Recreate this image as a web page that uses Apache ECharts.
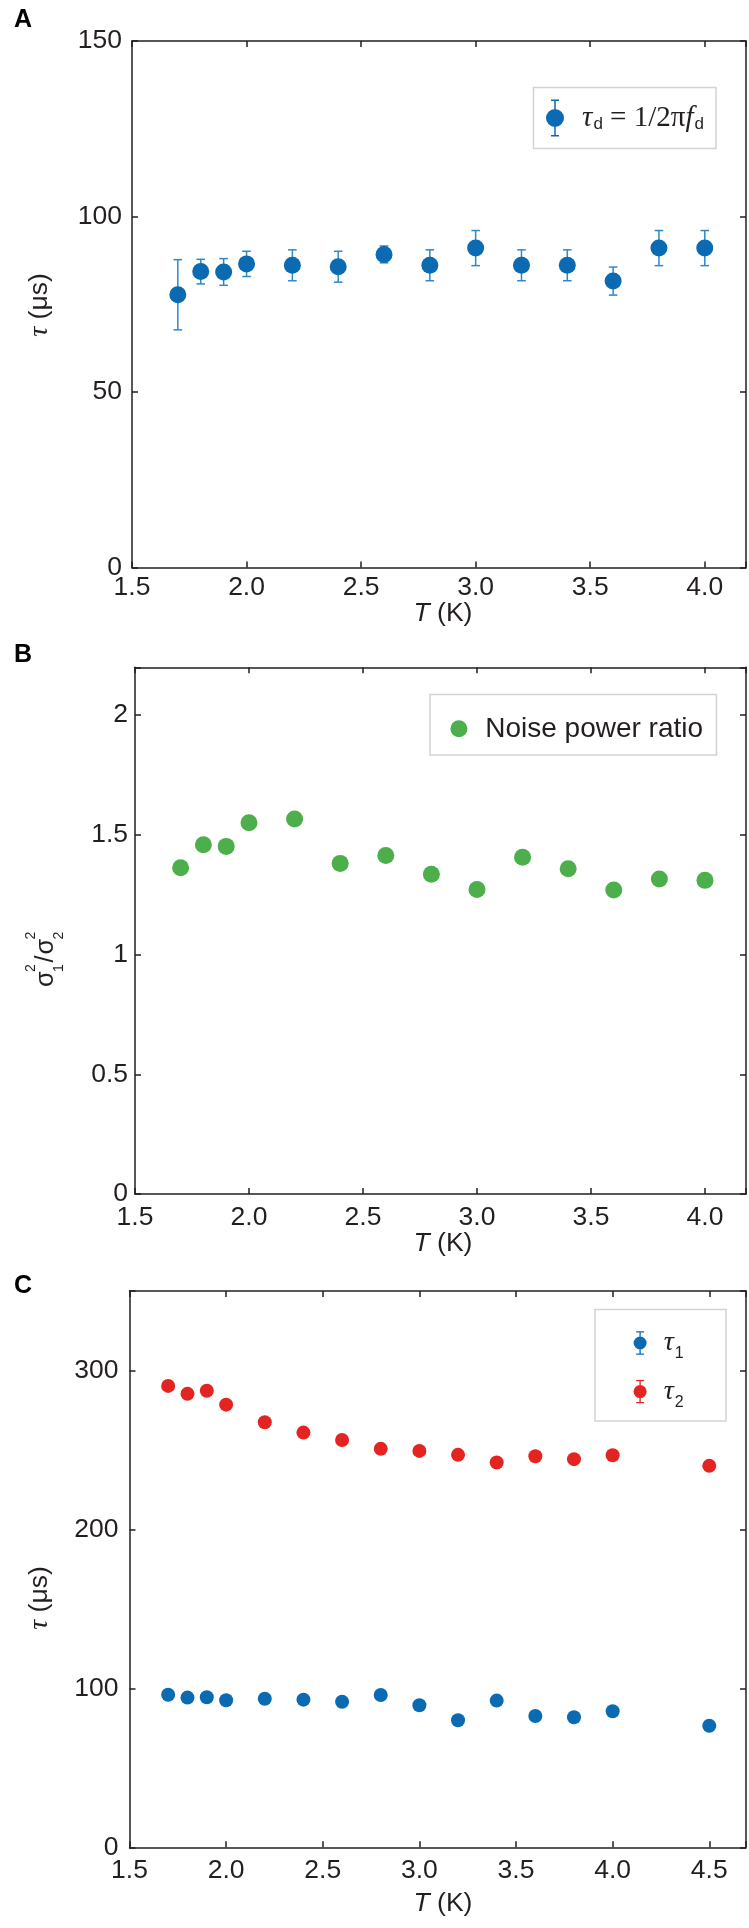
<!DOCTYPE html>
<html>
<head>
<meta charset="utf-8">
<script src="https://cdn.jsdelivr.net/npm/echarts@6/dist/echarts.min.js"></script>
<style>html,body{margin:0;padding:0;background:#fff}#c{width:749px;height:1928px}</style>
</head>
<body>
<div id="c"></div>
<script>
// ---------------- data ----------------
const temperaturesAB = [1.7, 1.8, 1.9, 2.0, 2.2, 2.4, 2.6, 2.8, 3.0, 3.2, 3.4, 3.6, 3.8, 4.0];
const tauD          = [77.7, 84.3, 84.2, 86.5, 86.1, 85.7, 89.2, 86.1, 91.0, 86.1, 86.1, 81.6, 91.0, 91.0];
const tauDErr       = [10.0, 3.5, 3.8, 3.6, 4.4, 4.4, 2.4, 4.4, 5.0, 4.4, 4.4, 4.0, 5.0, 5.0];
const noiseRatio    = [1.363, 1.459, 1.452, 1.551, 1.566, 1.381, 1.414, 1.336, 1.272, 1.407, 1.359, 1.270, 1.316, 1.310];
const temperaturesC = [1.7, 1.8, 1.9, 2.0, 2.2, 2.4, 2.6, 2.8, 3.0, 3.2, 3.4, 3.6, 3.8, 4.0, 4.5];
const tau1          = [96.0, 94.2, 94.4, 92.5, 93.5, 92.9, 91.6, 95.8, 89.4, 79.9, 92.3, 82.6, 81.8, 85.6, 76.5];
const tau2          = [290.3, 285.3, 287.2, 278.5, 267.4, 260.9, 256.3, 250.7, 249.4, 246.9, 242.1, 246.0, 244.2, 246.7, 240.0];
const xTickStep = 0.5;
const yTickStepA = 50, yTickStepB = 0.5, yTickStepC = 100;
const panelLabels = ['A', 'B', 'C'];

// ---------------- style ----------------
const INK = '#231f20';
const SANS = "'Liberation Sans', Arial, Helvetica, sans-serif";
const SERIF = "'Liberation Serif', 'Times New Roman', serif";
const BLUE = '#0a6ab2', BLUE_ERR = '#2d88cc', GREEN = '#4caf4b', RED = '#e32420';
const FS = 26.5;

function mult(v, s) { return Math.abs(v / s - Math.round(v / s)) < 1e-6; }
const lineStyle = { color: INK, width: 1.5 };

function xAxes(gi, max, margin) {
  const base = {
    gridIndex: gi, type: 'value', min: 1.5, max: max, interval: xTickStep,
    axisLine: { show: true, onZero: false, lineStyle },
    axisTick: { show: true, inside: true, length: 6, lineStyle },
    splitLine: { show: false }
  };
  return [
    Object.assign({}, base, {
      position: 'bottom',
      axisLabel: { margin, fontSize: FS, fontFamily: SANS, color: INK,
        formatter: v => mult(v, xTickStep) ? v.toFixed(1) : '' }
    }),
    Object.assign({}, base, { position: 'top', axisLabel: { show: false } })
  ];
}
function yAxes(gi, max, step, margin) {
  const base = {
    gridIndex: gi, type: 'value', min: 0, max: max, interval: step,
    axisLine: { show: true, onZero: false, lineStyle },
    axisTick: { show: true, inside: true, length: 6, lineStyle },
    splitLine: { show: false }
  };
  return [
    Object.assign({}, base, {
      position: 'left',
      axisLabel: { margin, fontSize: FS, fontFamily: SANS, color: INK,
        formatter: v => mult(v, step) ? String(+v.toFixed(2)) : '' }
    }),
    Object.assign({}, base, { position: 'right', axisLabel: { show: false } })
  ];
}

// legend icons: marker with error bar (all sub-paths clockwise, no overlaps)
const iconA = 'path://M0,18.5a9,9 0 1,1 18,0a9,9 0 1,1 -18,0Z M8.25,1.5h1.5v8h-1.5Z M8.25,27.5h1.5v8h-1.5Z M5,0h8v1.5h-8Z M5,35.5h8v1.5h-8Z';
const iconC = 'path://M0,11.7a6.5,6.5 0 1,1 13,0a6.5,6.5 0 1,1 -13,0Z M5.85,1.3h1.3v3.9h-1.3Z M5.85,18.2h1.3v3.9h-1.3Z M2.5,0h8v1.3h-8Z M2.5,22.1h8v1.3h-8Z';

const chart = echarts.init(document.getElementById('c'), null, { renderer: 'canvas' });

function xTitle(y) {
  return { type: 'text', x: 443, y: y, style: {
    text: '{i|T}{n| (K)}', align: 'center', verticalAlign: 'middle', textAlign: 'center', textVerticalAlign: 'middle',
    rich: { i: { fontFamily: SANS, fontStyle: 'italic', fontSize: FS, fill: INK },
            n: { fontFamily: SANS, fontSize: FS, fill: INK } } } };
}
function yTitle(x, y) {
  return { type: 'text', x: x, y: y, rotation: Math.PI / 2, style: {
    text: '{t|τ}{n| (μs)}', align: 'center', verticalAlign: 'middle', textAlign: 'center', textVerticalAlign: 'middle',
    rich: { t: { fontFamily: SERIF, fontStyle: 'italic', fontSize: 28, fill: INK },
            n: { fontFamily: SANS, fontSize: FS, fill: INK } } } };
}
function panelLabel(txt, y) {
  return { type: 'text', x: 14, y: y, style: { text: txt, fontFamily: SANS, fontWeight: 'bold', fontSize: 25, fill: '#000',
    align: 'left', verticalAlign: 'middle', textAlign: 'left', textVerticalAlign: 'middle' } };
}
function legendBox(x, y, w, h) {
  return { type: 'rect', shape: { x, y, width: w, height: h }, style: { fill: 'none', stroke: '#d3d3d3', lineWidth: 1.5 }, z: 1 };
}
function t(txt, x, y, size) {
  return { type: 'text', x, y, style: { text: txt, fontFamily: SANS, fontSize: size, fill: INK,
    align: 'left', verticalAlign: 'middle', textAlign: 'left', textVerticalAlign: 'middle' } };
}
// sigma_1^2 / sigma_2^2 rotated label
const sigmaLabel = { type: 'group', x: 55, y: 957, rotation: Math.PI / 2, children: [
  t('σ', -30, -8.9, 25.5),
  t('2', -15, -24.2, 14),
  t('1', -15, 4.1, 14),
  t('/', -5.5, -8.9, 25.5),
  t('σ', 2.5, -8.9, 25.5),
  t('2', 17.5, -24.2, 14),
  t('2', 17.5, 4.1, 14)
] };

const richLegend = {
  it: { fontFamily: SERIF, fontStyle: 'italic', fontSize: 29, color: INK },
  n: { fontFamily: SERIF, fontSize: 29, color: INK },
  sub: { fontFamily: SANS, fontSize: 17, color: INK, padding: [13, 0, 0, 1] }
};
const richLegendC = {
  it: { fontFamily: SERIF, fontStyle: 'italic', fontSize: 28, color: INK },
  sub: { fontFamily: SANS, fontSize: 16, color: INK, padding: [22, 0, 0, 1] }
};

const option = {
  animation: false,
  backgroundColor: '#fff',
  grid: [
    { left: 132, top: 41, width: 615, height: 526.5 },
    { left: 135, top: 667.3, width: 612, height: 526.7 },
    { left: 129.5, top: 1291, width: 617, height: 556.3 }
  ],
  xAxis: [].concat(xAxes(0, 4.18, 7), xAxes(1, 4.18, 10), xAxes(2, 4.69, 10)),
  yAxis: [].concat(yAxes(0, 150, yTickStepA, 10), yAxes(1, 2.2, yTickStepB, 7), yAxes(2, 350, yTickStepC, 11)),
  legend: [
    { data: ['τd'], left: 546, top: 99.5, padding: 0, itemWidth: 44, itemHeight: 37, icon: iconA,
      selectedMode: false, formatter: () => '{it|τ}{sub|d}{n| = 1/2π}{it|f}{sub|d}', textStyle: { rich: richLegend } },
    { data: ['Noise power ratio'], left: 450.4, top: 714.8, padding: 0, itemWidth: 42.6, itemHeight: 17, icon: 'circle',
      selectedMode: false, textStyle: { fontFamily: SANS, fontSize: 28, color: INK } },
    { data: ['τ1'], left: 633.6, top: 1329, padding: 0, itemWidth: 37.4, itemHeight: 23.4, icon: iconC,
      selectedMode: false, formatter: () => '{it|τ}{sub|1}', textStyle: { rich: richLegendC } },
    { data: ['τ2'], left: 633.6, top: 1377.6, padding: 0, itemWidth: 37.4, itemHeight: 23.4, icon: iconC,
      selectedMode: false, formatter: () => '{it|τ}{sub|2}', textStyle: { rich: richLegendC } }
  ],
  series: [
    { type: 'custom', name: 'errA', xAxisIndex: 0, yAxisIndex: 0, silent: true, z: 2,
      data: temperaturesAB.map((x, i) => [x, tauD[i] - tauDErr[i], tauD[i] + tauDErr[i]]),
      encode: { x: 0, y: [1, 2] },
      renderItem: function (params, api) {
        const x = api.value(0);
        const lo = api.coord([x, api.value(1)]);
        const hi = api.coord([x, api.value(2)]);
        const hw = 4.3;
        const st = { stroke: BLUE_ERR, lineWidth: 1.5 };
        return { type: 'group', children: [
          { type: 'line', shape: { x1: lo[0], y1: lo[1], x2: hi[0], y2: hi[1] }, style: st },
          { type: 'line', shape: { x1: lo[0] - hw, y1: lo[1], x2: lo[0] + hw, y2: lo[1] }, style: st },
          { type: 'line', shape: { x1: hi[0] - hw, y1: hi[1], x2: hi[0] + hw, y2: hi[1] }, style: st }
        ] };
      } },
    { type: 'scatter', name: 'τd', xAxisIndex: 0, yAxisIndex: 0, z: 3, symbolSize: 17,
      itemStyle: { color: BLUE, opacity: 1 }, emphasis: { disabled: true },
      data: temperaturesAB.map((x, i) => [x, tauD[i]]) },
    { type: 'scatter', name: 'Noise power ratio', xAxisIndex: 2, yAxisIndex: 2, z: 3, symbolSize: 17,
      itemStyle: { color: GREEN, opacity: 1 }, emphasis: { disabled: true },
      data: temperaturesAB.map((x, i) => [x, noiseRatio[i]]) },
    { type: 'scatter', name: 'τ1', xAxisIndex: 4, yAxisIndex: 4, z: 3, symbolSize: 14,
      itemStyle: { color: BLUE, opacity: 1 }, emphasis: { disabled: true },
      data: temperaturesC.map((x, i) => [x, tau1[i]]) },
    { type: 'scatter', name: 'τ2', xAxisIndex: 4, yAxisIndex: 4, z: 3, symbolSize: 14,
      itemStyle: { color: RED, opacity: 1 }, emphasis: { disabled: true },
      data: temperaturesC.map((x, i) => [x, tau2[i]]) }
  ],
  graphic: [
    panelLabel(panelLabels[0], 20.5),
    panelLabel(panelLabels[1], 655.5),
    panelLabel(panelLabels[2], 1286.5),
    xTitle(613.2), xTitle(1243.7), xTitle(1903.2),
    yTitle(40, 305), yTitle(40, 1598),
    sigmaLabel,
    legendBox(533.5, 87.5, 182.5, 61),
    legendBox(430, 694.5, 286.5, 60.5),
    legendBox(595, 1309.5, 131, 111.5)
  ]
};
chart.setOption(option);
</script>
</body>
</html>
